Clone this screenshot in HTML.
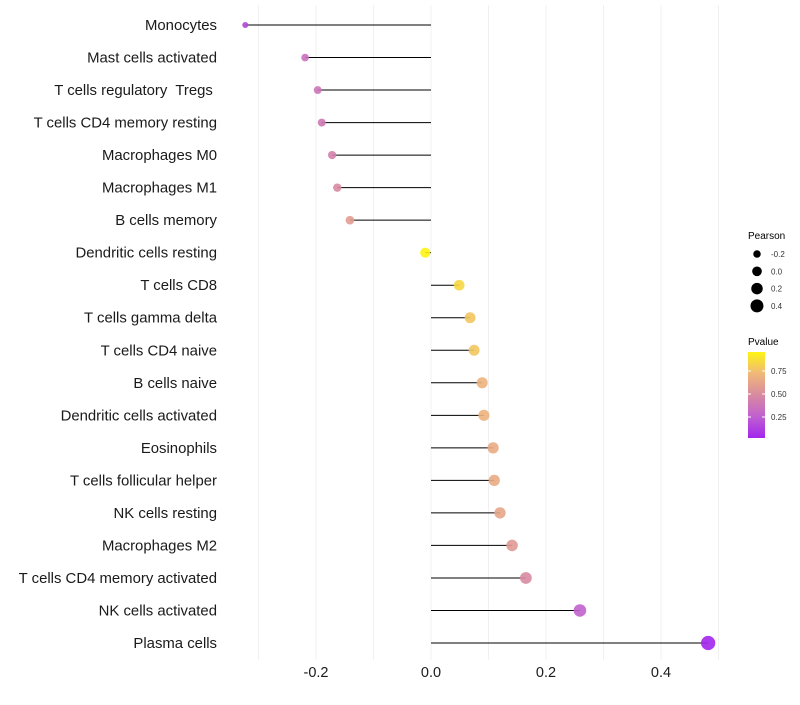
<!DOCTYPE html>
<html><head><meta charset="utf-8"><style>
body{margin:0;background:#fff;font-family:"Liberation Sans",sans-serif}
</style></head><body>
<svg id="c" width="800" height="700" xmlns="http://www.w3.org/2000/svg" font-family="Liberation Sans, sans-serif"></svg>
<script>
const categories=["Monocytes","Mast cells activated","T cells regulatory  Tregs ","T cells CD4 memory resting","Macrophages M0","Macrophages M1","B cells memory","Dendritic cells resting","T cells CD8","T cells gamma delta","T cells CD4 naive","B cells naive","Dendritic cells activated","Eosinophils","T cells follicular helper","NK cells resting","Macrophages M2","T cells CD4 memory activated","NK cells activated","Plasma cells"];
const pearson=[-0.323,-0.219,-0.197,-0.190,-0.172,-0.163,-0.141,-0.010,0.049,0.068,0.075,0.089,0.092,0.108,0.110,0.120,0.141,0.165,0.259,0.482];
const pvalue=[0.15,0.35,0.38,0.4,0.45,0.5,0.6,0.96,0.86,0.8,0.8,0.72,0.72,0.68,0.68,0.65,0.58,0.5,0.26,0.02];
const xTicks=[-0.2,0,0.2,0.4];
const xTickLabels=["-0.2","0.0","0.2","0.4"];
const gridVals=[-0.3,-0.2,-0.1,0,0.1,0.2,0.3,0.4,0.5];
const sizeLegend=[-0.2,0,0.2,0.4];
const colorLegend=[0.25,0.5,0.75];

const svg=document.getElementById('c');
const NS="http://www.w3.org/2000/svg";
const x=v=>431+v*575;
const y=i=>25+i*(643-25)/(categories.length-1);
const r=v=>Math.sqrt(Math.max(3,26+52*v));
const stops=[[0,[160,32,240]],[0.25,[192,96,208]],[0.5,[216,138,160]],[0.75,[240,184,120]],[1,[255,255,0]]];
function col(p){
  let k=0; while(k<stops.length-2 && p>stops[k+1][0]) k++;
  const a=stops[k],b=stops[k+1];
  const t=Math.min(1,Math.max(0,(p-a[0])/(b[0]-a[0])));
  const c=a[1].map((v,j)=>Math.round(v+(b[1][j]-v)*t));
  return `rgb(${c})`;
}
function mk(tag,attrs,parent){const e=document.createElementNS(NS,tag);for(const k in attrs)e.setAttribute(k,attrs[k]);(parent||svg).appendChild(e);return e;}

gridVals.forEach(v=>{
  const g=mk('line',{x1:x(v),x2:x(v),y1:5,y2:660,stroke:'#f0f0f0','stroke-width':1});
  
  
});
categories.forEach((c,i)=>{
  const t=mk('text',{x:217,y:y(i)+5,'text-anchor':'end','font-size':14.9,fill:'#1a1a1a'});
  t.setAttribute('xml:space','preserve');
  t.style.whiteSpace='pre';
  t.textContent=c;
  
  
  const l=mk('line',{x1:x(0),x2:x(pearson[i]),y1:y(i),y2:y(i),stroke:'#000','stroke-width':1});
  
  
  const p=mk('circle',{cx:x(pearson[i]),cy:y(i),r:r(pearson[i]),fill:col(pvalue[i]),'fill-opacity':0.9});
  
  
});
xTicks.forEach((v,i)=>{
  const t=mk('text',{x:x(v),y:677,'text-anchor':'middle','font-size':14.5,fill:'#1a1a1a'});
  t.textContent=xTickLabels[i];
  
  
});
const lt=mk('text',{x:748,y:239,'font-size':10,fill:'#000'});lt.textContent='Pearson';


sizeLegend.forEach((v,i)=>{
  const cy=254+i*17.3;
  const c=mk('circle',{cx:757,cy:cy,r:r(v)*0.95,fill:'#000'});
  
  
  const t=mk('text',{x:771,y:cy+3,'font-size':8,fill:'#333'});t.textContent=xTickLabels[i];
  
  
});
const ct=mk('text',{x:748,y:345,'font-size':10,fill:'#000'});ct.textContent='Pvalue';


const defs=mk('defs',{});
const lg=mk('linearGradient',{id:'pg',x1:0,y1:1,x2:0,y2:0},defs);
[0.02,0.25,0.5,0.75,0.96].forEach((p,i)=>{
  mk('stop',{offset:String(i/4),'stop-color':col(p)},lg);
});
const bar=mk('rect',{x:748,y:352,width:17,height:86,fill:'url(#pg)'});


const py=p=>440-p*92;
colorLegend.forEach(v=>{
  mk('line',{x1:748,x2:751,y1:py(v),y2:py(v),stroke:'#fff'});
  mk('line',{x1:762,x2:765,y1:py(v),y2:py(v),stroke:'#fff'});
  const t=mk('text',{x:771,y:py(v)+3,'font-size':8,fill:'#333'});t.textContent=v.toFixed(2);
  
  
});
</script>
</body></html>
